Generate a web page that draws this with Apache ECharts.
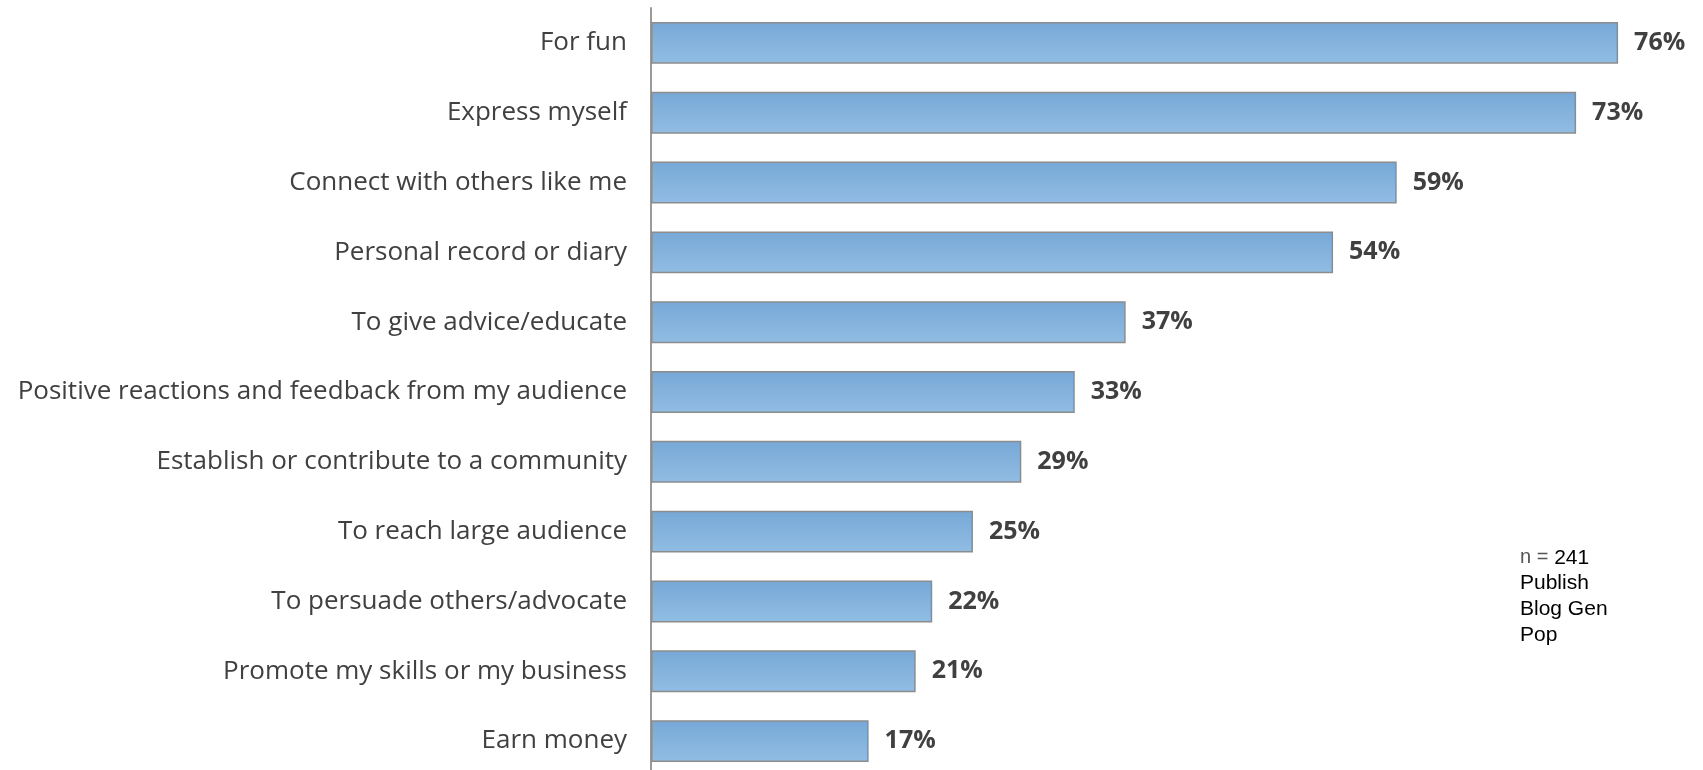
<!DOCTYPE html>
<html>
<head>
<meta charset="utf-8">
<title>Reasons for blogging</title>
<script src="https://cdn.jsdelivr.net/npm/echarts@6/dist/echarts.min.js"></script>
<style>
  html, body { margin: 0; padding: 0; background: #fff; overflow: hidden; }
  /* chart runs a little past the window bottom so the axis and last band get cut off like the original */
  #chart { width: 1703px; height: 780px; }
</style>
</head>
<body>
<div id="chart"></div>
<script>
  // categories, top to bottom
  var categories = [
    'For fun',
    'Express myself',
    'Connect with others like me',
    'Personal record or diary',
    'To give advice/educate',
    'Positive reactions and feedback from my audience',
    'Establish or contribute to a community',
    'To reach large audience',
    'To persuade others/advocate',
    'Promote my skills or my business',
    'Earn money'
  ];
  // percent of respondents (bar lengths, labels are rounded)
  var shares = [76, 72.7, 58.6, 53.6, 37.3, 33.3, 29.1, 25.3, 22.1, 20.8, 17.1];
  // footnote lines
  var noteLines = ['n = 241', 'Publish', 'Blog Gen', 'Pop'];

  var myChart = echarts.init(document.getElementById('chart'));

  var option = {
    animation: false,
    grid: {
      left: 651,
      right: 34,
      top: 8,
      height: 768
    },
    xAxis: {
      type: 'value',
      min: 0,
      max: 80,
      show: false
    },
    yAxis: {
      type: 'category',
      data: categories,
      inverse: true,
      axisLine: { lineStyle: { color: '#9a9a9a', width: 2 } },
      axisTick: { show: false },
      axisLabel: {
        margin: 24,
        padding: [5, 0, 0, 0],
        fontFamily: 'Open Sans',
        fontSize: 26,
        color: '#404040'
      }
    },
    graphic: [{
      type: 'text',
      left: 1520,
      top: 545,
      style: {
        text: '{g|n =} 241\n' + noteLines.slice(1).join('\n'),
        fontFamily: 'Liberation Sans',
        fontSize: 21,
        lineHeight: 25.7,
        fill: '#000',
        rich: {
          g: { fontFamily: 'Liberation Sans', fontSize: 20, fill: '#555', lineHeight: 25.7 }
        }
      }
    }],
    series: [{
      type: 'bar',
      data: shares,
      barCategoryGap: '40%',
      itemStyle: {
        color: new echarts.graphic.LinearGradient(0, 0, 0, 1, [
          { offset: 0, color: '#77a8d6' },
          { offset: 1, color: '#91bde3' }
        ]),
        borderColor: '#8c8c8c',
        borderWidth: 1.5
      },
      label: {
        show: true,
        position: 'right',
        distance: 16,
        padding: [5, 0, 0, 0],
        formatter: function (p) { return Math.round(p.value) + '%'; },
        fontFamily: 'Open Sans',
        fontWeight: 'bold',
        fontSize: 25,
        color: '#404040'
      }
    }]
  };

  myChart.setOption(option, true);
</script>
</body>
</html>
